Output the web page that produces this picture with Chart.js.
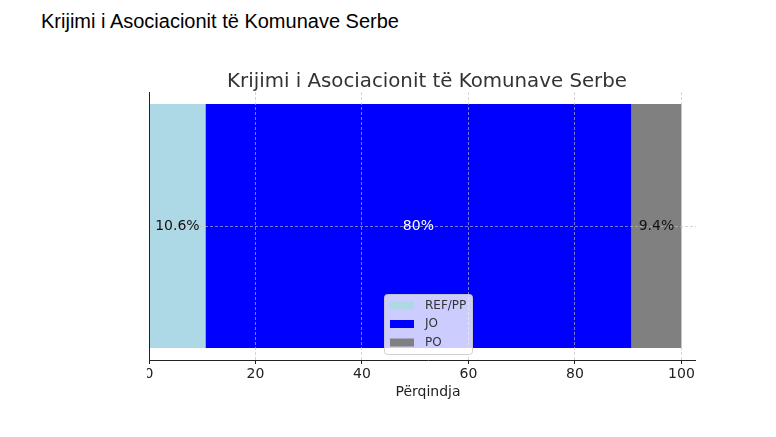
<!DOCTYPE html>
<html>
<head>
<meta charset="utf-8">
<script src="https://cdn.jsdelivr.net/npm/chart.js"></script>
<style>
  html, body { margin: 0; padding: 0; background: #fff; }
  body { width: 776px; height: 437px; position: relative; overflow: hidden; }
  #header {
    position: absolute; left: 41px; top: 10px;
    font-family: "Liberation Sans", Arial, sans-serif; font-size: 20px; line-height: 22px;
    color: #000; white-space: nowrap;
  }
  /* the figure is cropped a little on both sides, as in the source image */
  #chartBox { position: absolute; left: 147px; top: 50px; width: 549px; height: 387px; overflow: hidden; }
</style>
</head>
<body>
<div id="header">Krijimi i Asociacionit të Komunave Serbe</div>
<div id="chartBox"><canvas id="surveyChart" width="560" height="387"></canvas></div>
<script>
// data
const chartTitle = 'Krijimi i Asociacionit të Komunave Serbe';
const categories = ['Asociacioni'];
const seriesNames = ['REF/PP', 'JO', 'PO'];
const refValues = [10.6];
const joValues = [80];
const poValues = [9.4];
const xTicks = [0, 20, 40, 60, 80, 100];
const axisLabel = 'Përqindja';

// styles
const barColors = ['#ADD8E6', '#0000FF', '#808080'];
const labelColors = ['#111', '#fff', '#111'];
const gridColor = 'rgba(190, 190, 190, 0.8)';
const inkColor = '#222';

// percentage labels in the middle of each segment
const segmentLabels = {
  id: 'segmentLabels',
  afterDraw(chart) {
    const ctx = chart.ctx;
    ctx.save();
    ctx.font = '14px "DejaVu Sans"';
    ctx.textAlign = 'center';
    ctx.textBaseline = 'middle';
    chart.data.datasets.forEach((ds, i) => {
      const meta = chart.getDatasetMeta(i);
      meta.data.forEach((bar, j) => {
        const cx = (bar.x + bar.base) / 2;
        ctx.fillStyle = labelColors[i];
        ctx.fillText(ds.data[j] + '%', cx, bar.y);
      });
    });
    ctx.restore();
  }
};

// matplotlib-like legend box sitting inside the plot, lower centre
const innerLegend = {
  id: 'innerLegend',
  afterDraw(chart) {
    const ctx = chart.ctx;
    const area = chart.chartArea;
    const w = 88, h = 60, rowH = 18.5;
    const x = Math.round((area.left + area.right) / 2 - w / 2);
    const y = area.bottom - 6 - h;
    ctx.save();
    ctx.beginPath();
    ctx.roundRect(x + 0.5, y + 0.5, w, h, 3);
    ctx.fillStyle = 'rgba(255, 255, 255, 0.8)';
    ctx.fill();
    ctx.strokeStyle = 'rgba(204, 204, 204, 0.9)';
    ctx.lineWidth = 1;
    ctx.stroke();
    ctx.font = '12px "DejaVu Sans"';
    ctx.textBaseline = 'middle';
    ctx.textAlign = 'left';
    chart.data.datasets.forEach((ds, i) => {
      const ry = y + 11.5 + i * rowH;
      ctx.fillStyle = ds.backgroundColor;
      ctx.fillRect(x + 6, ry - 4, 24, 8);
      ctx.fillStyle = '#333';
      ctx.fillText(ds.label, x + 41, ry);
    });
    ctx.restore();
  }
};

new Chart(document.getElementById('surveyChart').getContext('2d'), {
  type: 'bar',
  data: {
    labels: categories,
    datasets: [
      { label: seriesNames[0], data: refValues, backgroundColor: barColors[0] },
      { label: seriesNames[1], data: joValues, backgroundColor: barColors[1] },
      { label: seriesNames[2], data: poValues, backgroundColor: barColors[2] }
    ]
  },
  options: {
    indexAxis: 'y',
    responsive: false,
    animation: false,
    devicePixelRatio: 1,
    barPercentage: 0.91,
    categoryPercentage: 1,
    borderWidth: 0,
    layout: { padding: { left: 0, right: 0, top: 0, bottom: 27 } },
    plugins: {
      legend: { display: false },
      tooltip: { enabled: false },
      title: {
        display: true,
        text: chartTitle,
        color: '#333',
        font: { family: 'DejaVu Sans', size: 19.8, weight: 'normal', lineHeight: 1 },
        padding: { top: 22, bottom: 0.2 }
      }
    },
    scales: {
      x: {
        stacked: true,
        min: 0,
        max: 104.8,
        afterBuildTicks: scale => {
          scale.ticks = xTicks.map(v => ({ value: v }));
        },
        afterFit: scale => {
          scale.height = 50;
          scale.paddingLeft = 0;
          scale.paddingRight = 0;
        },
        grid: {
          z: 1,
          color: c => (c.tick && c.tick.value === 0) ? 'rgba(0,0,0,0)' : gridColor,
          lineWidth: 0.8,
          tickColor: inkColor,
          tickLength: 4,
          tickWidth: 1,
          tickBorderDash: []
        },
        border: { display: true, z: 2, color: inkColor, width: 1, dash: [3, 2] },
        ticks: {
          color: inkColor,
          padding: 2,
          maxRotation: 0,
          font: { family: 'DejaVu Sans', size: 14 }
        },
        title: {
          display: true,
          text: axisLabel,
          color: inkColor,
          font: { family: 'DejaVu Sans', size: 14 },
          padding: { top: 0, bottom: 9 }
        }
      },
      y: {
        stacked: true,
        afterFit: scale => { scale.width = 2; },
        grid: {
          z: 1,
          offset: false,
          drawTicks: false,
          color: gridColor,
          lineWidth: 0.8
        },
        border: { display: true, z: 2, color: inkColor, width: 1, dash: [3, 2] },
        ticks: { display: false }
      }
    }
  },
  plugins: [segmentLabels, innerLegend]
});
</script>
</body>
</html>
